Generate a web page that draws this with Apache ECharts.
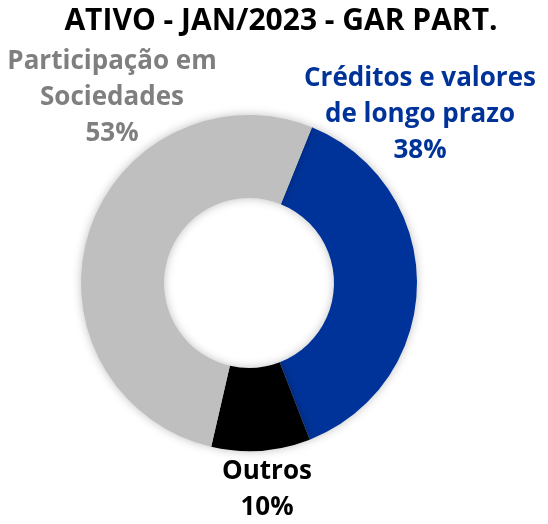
<!DOCTYPE html>
<html>
<head>
<meta charset="utf-8">
<script src="https://cdn.jsdelivr.net/npm/echarts@6/dist/echarts.min.js"></script>
<style>
  html, body { margin: 0; padding: 0; background: #fff; }
  #chart { width: 548px; height: 524px; }
</style>
</head>
<body>
<div id="chart"></div>
<script>
const CATEGORIES = ['Créditos e valores\nde longo prazo', 'Outros', 'Participação em\nSociedades'];
const VALUES = [38.0, 9.5, 52.5];
const SLICE_COLORS = ['#003399', '#000000', '#bfbfbf'];
const LABEL_COLORS = ['#003399', '#000000', '#7f7f7f'];

// onde cada rótulo fica (centro do bloco de texto)
const LABEL_POS = [
  { x: 420, y: 115 },
  { x: 267, y: 490 },
  { x: 112, y: 98 }
];

const chart = echarts.init(document.getElementById('chart'));

chart.setOption({
  animation: false,
  title: {
    text: 'ATIVO - JAN/2023 - GAR PART.',
    left: 276,
    textAlign: 'center',
    top: 1,
    textStyle: {
      fontFamily: 'Open Sans',
      fontWeight: 'bold',
      fontSize: 30,
      color: '#000'
    }
  },
  series: [{
    type: 'pie',
    center: [249, 283],
    radius: [85, 168],
    startAngle: 68,
    clockwise: true,
    avoidLabelOverlap: false,
    label: {
      show: true,
      position: 'outside',
      fontFamily: 'Open Sans',
      fontWeight: 'bold',
      fontSize: 26,
      lineHeight: 36,
      align: 'center',
      formatter: (p) => `${p.name}\n${Math.round(p.percent)}%`
    },
    labelLine: { show: false },
    labelLayout: (params) => {
      const pos = LABEL_POS[params.dataIndex];
      return { x: pos.x, y: pos.y, align: 'center', verticalAlign: 'middle' };
    },
    itemStyle: {
      shadowBlur: 10,
      shadowColor: 'rgba(0,0,0,0.25)'
    },
    data: CATEGORIES.map((name, i) => ({
      name,
      value: VALUES[i],
      itemStyle: { color: SLICE_COLORS[i] },
      label: { color: LABEL_COLORS[i] }
    }))
  }]
});
</script>
</body>
</html>
